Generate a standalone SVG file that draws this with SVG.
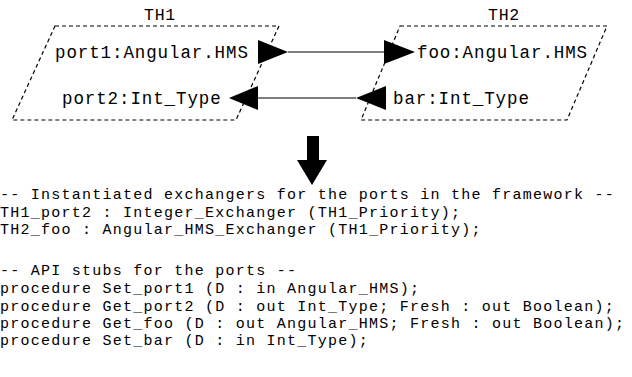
<svg xmlns="http://www.w3.org/2000/svg" width="632" height="377" viewBox="0 0 632 377">
<style>
.lbl{font-family:"Liberation Mono","DejaVu Sans Mono",monospace;font-size:17.5px;letter-spacing:0.9px;fill:#000}
.ttl{font-family:"Liberation Mono","DejaVu Sans Mono",monospace;font-size:16.5px;letter-spacing:0.8px;fill:#000}
.code{font-family:"Liberation Mono","DejaVu Sans Mono",monospace;font-size:15px;letter-spacing:1.25px;fill:#000}
.box{fill:none;stroke:#000;stroke-width:1.2;stroke-dasharray:4 3}
.ln{stroke:#000;stroke-width:1.2;fill:none}
.head{fill:#000}
</style>
<rect width="632" height="377" fill="#fff"/>
<g id="TH1">
<text class="ttl" x="160" y="20" text-anchor="middle">TH1</text>
<polygon class="box" points="55,26 279,26 236,120 12,120"/>
<text class="lbl" x="55" y="58">port1:Angular.HMS</text>
<text class="lbl" x="62" y="104">port2:Int_Type</text>
</g>
<g id="TH2">
<text class="ttl" x="504" y="20" text-anchor="middle">TH2</text>
<polygon class="box" points="400,26 607,26 567,120 361,120"/>
<text class="lbl" x="417" y="58">foo:Angular.HMS</text>
<text class="lbl" x="393" y="104">bar:Int_Type</text>
</g>
<g id="connectors">
<polygon class="head" points="258,40 288,52 258,64"/>
<line class="ln" x1="288" y1="52" x2="385" y2="52"/>
<polygon class="head" points="384,40 415,52 384,64"/>
<polygon class="head" points="386,86 356,98 386,110"/>
<line class="ln" x1="356" y1="98" x2="258" y2="98"/>
<polygon class="head" points="258,86 229,98 258,110"/>
<polygon class="head" points="307,136 319,136 319,160 327,160 312,185 297,160 307,160"/>
</g>
<g id="code">
<text class="code" x="0" y="199">-- Instantiated exchangers for the ports in the framework --</text>
<text class="code" x="0" y="217">TH1_port2 : Integer_Exchanger (TH1_Priority);</text>
<text class="code" x="0" y="234">TH2_foo : Angular_HMS_Exchanger (TH1_Priority);</text>
<text class="code" x="0" y="275">-- API stubs for the ports --</text>
<text class="code" x="0" y="293">procedure Set_port1 (D : in Angular_HMS);</text>
<text class="code" x="0" y="311">procedure Get_port2 (D : out Int_Type; Fresh : out Boolean);</text>
<text class="code" x="0" y="328">procedure Get_foo (D : out Angular_HMS; Fresh : out Boolean);</text>
<text class="code" x="0" y="345">procedure Set_bar (D : in Int_Type);</text>
</g>
</svg>
